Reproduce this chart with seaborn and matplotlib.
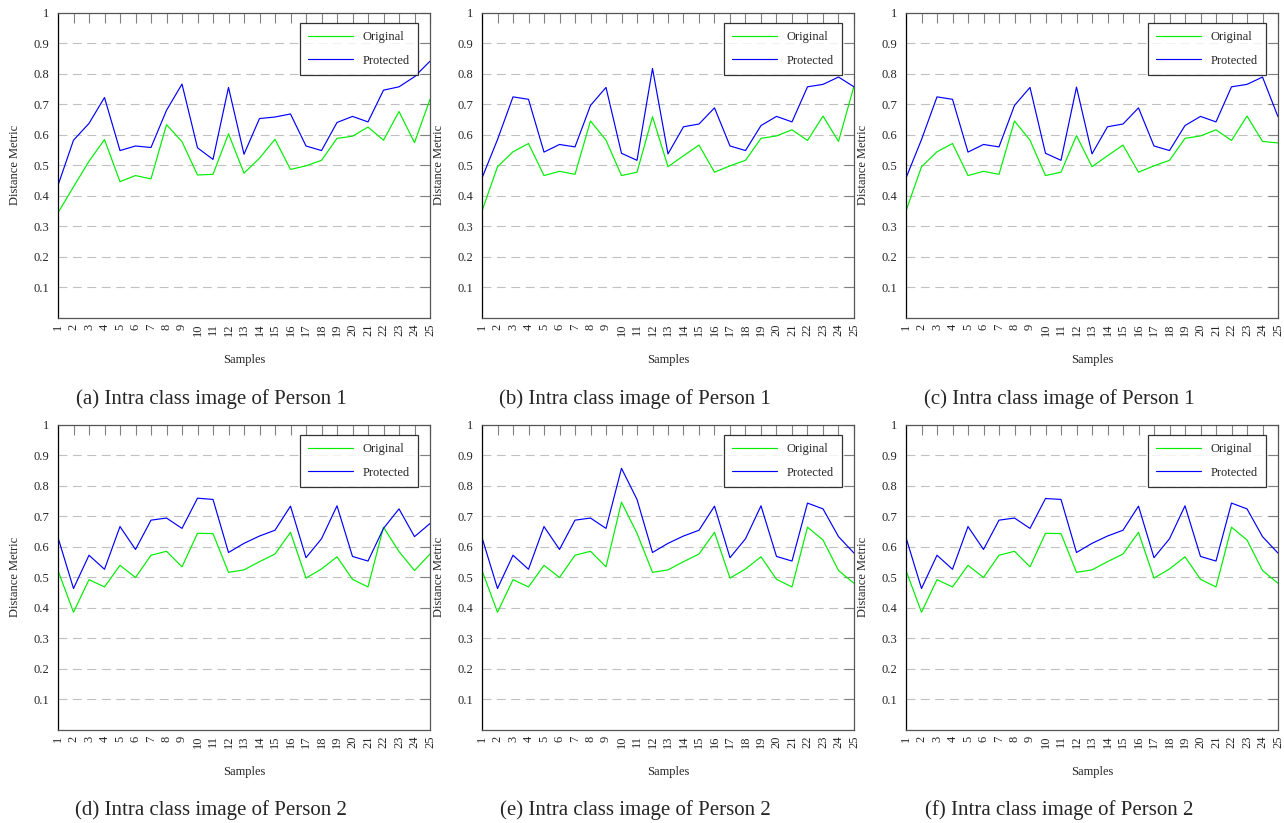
import numpy as np
import pandas as pd
import matplotlib
matplotlib.use("Agg")
import matplotlib.pyplot as plt
import seaborn as sns

# Values (samples 1..25)
SAMPLES = list(range(1, 26))

ORIG_A = [0.344, 0.429, 0.513, 0.584, 0.446, 0.466, 0.455, 0.633, 0.577, 0.468,
          0.470, 0.603, 0.474, 0.523, 0.585, 0.486, 0.498, 0.516, 0.588, 0.595,
          0.625, 0.582, 0.676, 0.574, 0.716]
PROT_A = [0.434, 0.582, 0.637, 0.722, 0.548, 0.563, 0.558, 0.680, 0.766, 0.557,
          0.519, 0.755, 0.536, 0.653, 0.658, 0.668, 0.563, 0.548, 0.640, 0.660,
          0.642, 0.746, 0.757, 0.790, 0.841]

ORIG_B = [0.350, 0.495, 0.544, 0.571, 0.466, 0.480, 0.470, 0.645, 0.582, 0.466,
          0.477, 0.659, 0.495, 0.531, 0.566, 0.477, 0.498, 0.516, 0.588, 0.596,
          0.616, 0.581, 0.661, 0.578, 0.759]
PROT_B = [0.458, 0.584, 0.724, 0.716, 0.543, 0.568, 0.560, 0.696, 0.755, 0.539,
          0.516, 0.817, 0.537, 0.626, 0.635, 0.688, 0.563, 0.548, 0.630, 0.660,
          0.642, 0.757, 0.765, 0.789, 0.757]

ORIG_C = [0.350, 0.495, 0.544, 0.571, 0.466, 0.480, 0.470, 0.645, 0.582, 0.466,
          0.477, 0.597, 0.495, 0.531, 0.566, 0.477, 0.498, 0.516, 0.588, 0.596,
          0.616, 0.581, 0.661, 0.578, 0.573]
PROT_C = [0.458, 0.584, 0.724, 0.716, 0.543, 0.568, 0.560, 0.696, 0.755, 0.539,
          0.516, 0.756, 0.537, 0.626, 0.635, 0.688, 0.563, 0.548, 0.630, 0.660,
          0.642, 0.757, 0.765, 0.789, 0.659]

ORIG_D = [0.522, 0.385, 0.492, 0.468, 0.539, 0.499, 0.572, 0.585, 0.534, 0.644,
          0.643, 0.516, 0.524, 0.551, 0.576, 0.647, 0.497, 0.527, 0.567, 0.493,
          0.468, 0.664, 0.584, 0.522, 0.576]
PROT_D = [0.630, 0.463, 0.572, 0.526, 0.666, 0.591, 0.687, 0.694, 0.660, 0.759,
          0.755, 0.581, 0.611, 0.635, 0.654, 0.733, 0.564, 0.626, 0.734, 0.568,
          0.553, 0.660, 0.724, 0.633, 0.676]

ORIG_E = [0.522, 0.385, 0.492, 0.468, 0.539, 0.499, 0.572, 0.585, 0.534, 0.746,
          0.644, 0.516, 0.524, 0.551, 0.576, 0.647, 0.497, 0.527, 0.567, 0.493,
          0.468, 0.664, 0.622, 0.522, 0.480]
PROT_E = [0.630, 0.463, 0.572, 0.526, 0.666, 0.591, 0.687, 0.694, 0.660, 0.857,
          0.755, 0.581, 0.611, 0.635, 0.654, 0.733, 0.564, 0.626, 0.734, 0.568,
          0.553, 0.743, 0.724, 0.633, 0.579]

ORIG_F = [0.522, 0.385, 0.492, 0.468, 0.539, 0.499, 0.572, 0.585, 0.534, 0.644,
          0.643, 0.516, 0.524, 0.551, 0.576, 0.647, 0.497, 0.527, 0.567, 0.493,
          0.468, 0.664, 0.622, 0.522, 0.480]
PROT_F = [0.630, 0.463, 0.572, 0.526, 0.666, 0.591, 0.687, 0.694, 0.660, 0.758,
          0.755, 0.581, 0.611, 0.635, 0.654, 0.733, 0.564, 0.626, 0.734, 0.568,
          0.553, 0.743, 0.724, 0.633, 0.579]

CAPTIONS = [
    "(a) Intra class image of Person 1",
    "(b) Intra class image of Person 1",
    "(c) Intra class image of Person 1",
    "(d) Intra class image of Person 2",
    "(e) Intra class image of Person 2",
    "(f) Intra class image of Person 2",
]
PANELS = [
    (ORIG_A, PROT_A), (ORIG_B, PROT_B), (ORIG_C, PROT_C),
    (ORIG_D, PROT_D), (ORIG_E, PROT_E), (ORIG_F, PROT_F),
]
Y_TICKS = [0.1, 0.2, 0.3, 0.4, 0.5, 0.6, 0.7, 0.8, 0.9, 1.0]
Y_LABELS = ["0.1", "0.2", "0.3", "0.4", "0.5", "0.6", "0.7", "0.8", "0.9", "1"]

PALETTE = {"Original": "#00ee00", "Protected": "#0000ff"}

# Layout in pixels of the 1284x823 figure
FIG_W, FIG_H = 1284, 823
COL_LEFT = [58, 482, 906]
ROW_TOP = [12.7, 424.7]
AX_W, AX_H = 372, 305
CAPTION_Y = [399, 810]


def panel_frame(orig, prot):
    return pd.DataFrame({
        "Samples": SAMPLES * 2,
        "Distance Metric": list(orig) + list(prot),
        "series": ["Original"] * len(orig) + ["Protected"] * len(prot),
    })


def draw_panel(ax, orig, prot):
    df = panel_frame(orig, prot)
    sns.lineplot(data=df, x="Samples", y="Distance Metric", hue="series",
                 palette=PALETTE, linewidth=0.85, ax=ax)

    ax.set_xlim(1, 25)
    ax.set_ylim(0, 1)
    ax.set_xticks(SAMPLES)
    ax.set_xticklabels([str(s) for s in SAMPLES], rotation=90)
    ax.set_yticks(Y_TICKS)
    ax.set_yticklabels(Y_LABELS)

    for y in Y_TICKS[:-1]:
        ax.axhline(y, color="#c0c0c0", linewidth=0.8,
                   linestyle=(0, (8, 5)), zorder=0)

    ax.tick_params(axis="both", direction="in", length=7, width=0.8,
                   color="#808080", labelsize=9, top=True, right=True)
    ax.tick_params(axis="x", pad=4)
    ax.tick_params(axis="y", pad=6)

    for side in ["top", "right", "bottom"]:
        ax.spines[side].set_color("#555555")
        ax.spines[side].set_linewidth(0.9)
    ax.spines["left"].set_color("black")
    ax.spines["left"].set_linewidth(0.9)

    ax.set_xlabel("Samples", fontsize=9, labelpad=13)
    ax.set_ylabel("Distance Metric", fontsize=9, labelpad=9)

    leg = ax.legend(loc="upper right", bbox_to_anchor=(0.968, 0.967),
                    fontsize=9, frameon=True, fancybox=False,
                    handlelength=3.6, labelspacing=0.95, borderpad=0.65,
                    handletextpad=0.8, borderaxespad=0)
    leg.get_frame().set_edgecolor("black")
    leg.get_frame().set_linewidth(0.9)
    for line in leg.get_lines():
        line.set_linewidth(0.85)


def main():
    sns.set_theme(style="white")
    plt.rcParams["font.family"] = ["Liberation Serif", "DejaVu Serif"]

    fig = plt.figure(figsize=(FIG_W / 100, FIG_H / 100), dpi=100)
    fig.patch.set_facecolor("white")

    for i, ((orig, prot), caption) in enumerate(zip(PANELS, CAPTIONS)):
        row, col = divmod(i, 3)
        left = COL_LEFT[col] / FIG_W
        bottom = 1 - (ROW_TOP[row] + AX_H) / FIG_H
        ax = fig.add_axes([left, bottom, AX_W / FIG_W, AX_H / FIG_H])
        draw_panel(ax, orig, prot)
        fig.text((COL_LEFT[col] + 153) / FIG_W, 1 - CAPTION_Y[row] / FIG_H,
                 caption, ha="center", va="center", fontsize=15)

    fig.savefig("out.png", dpi=100, facecolor="white")
    plt.close(fig)


if __name__ == "__main__":
    main()
